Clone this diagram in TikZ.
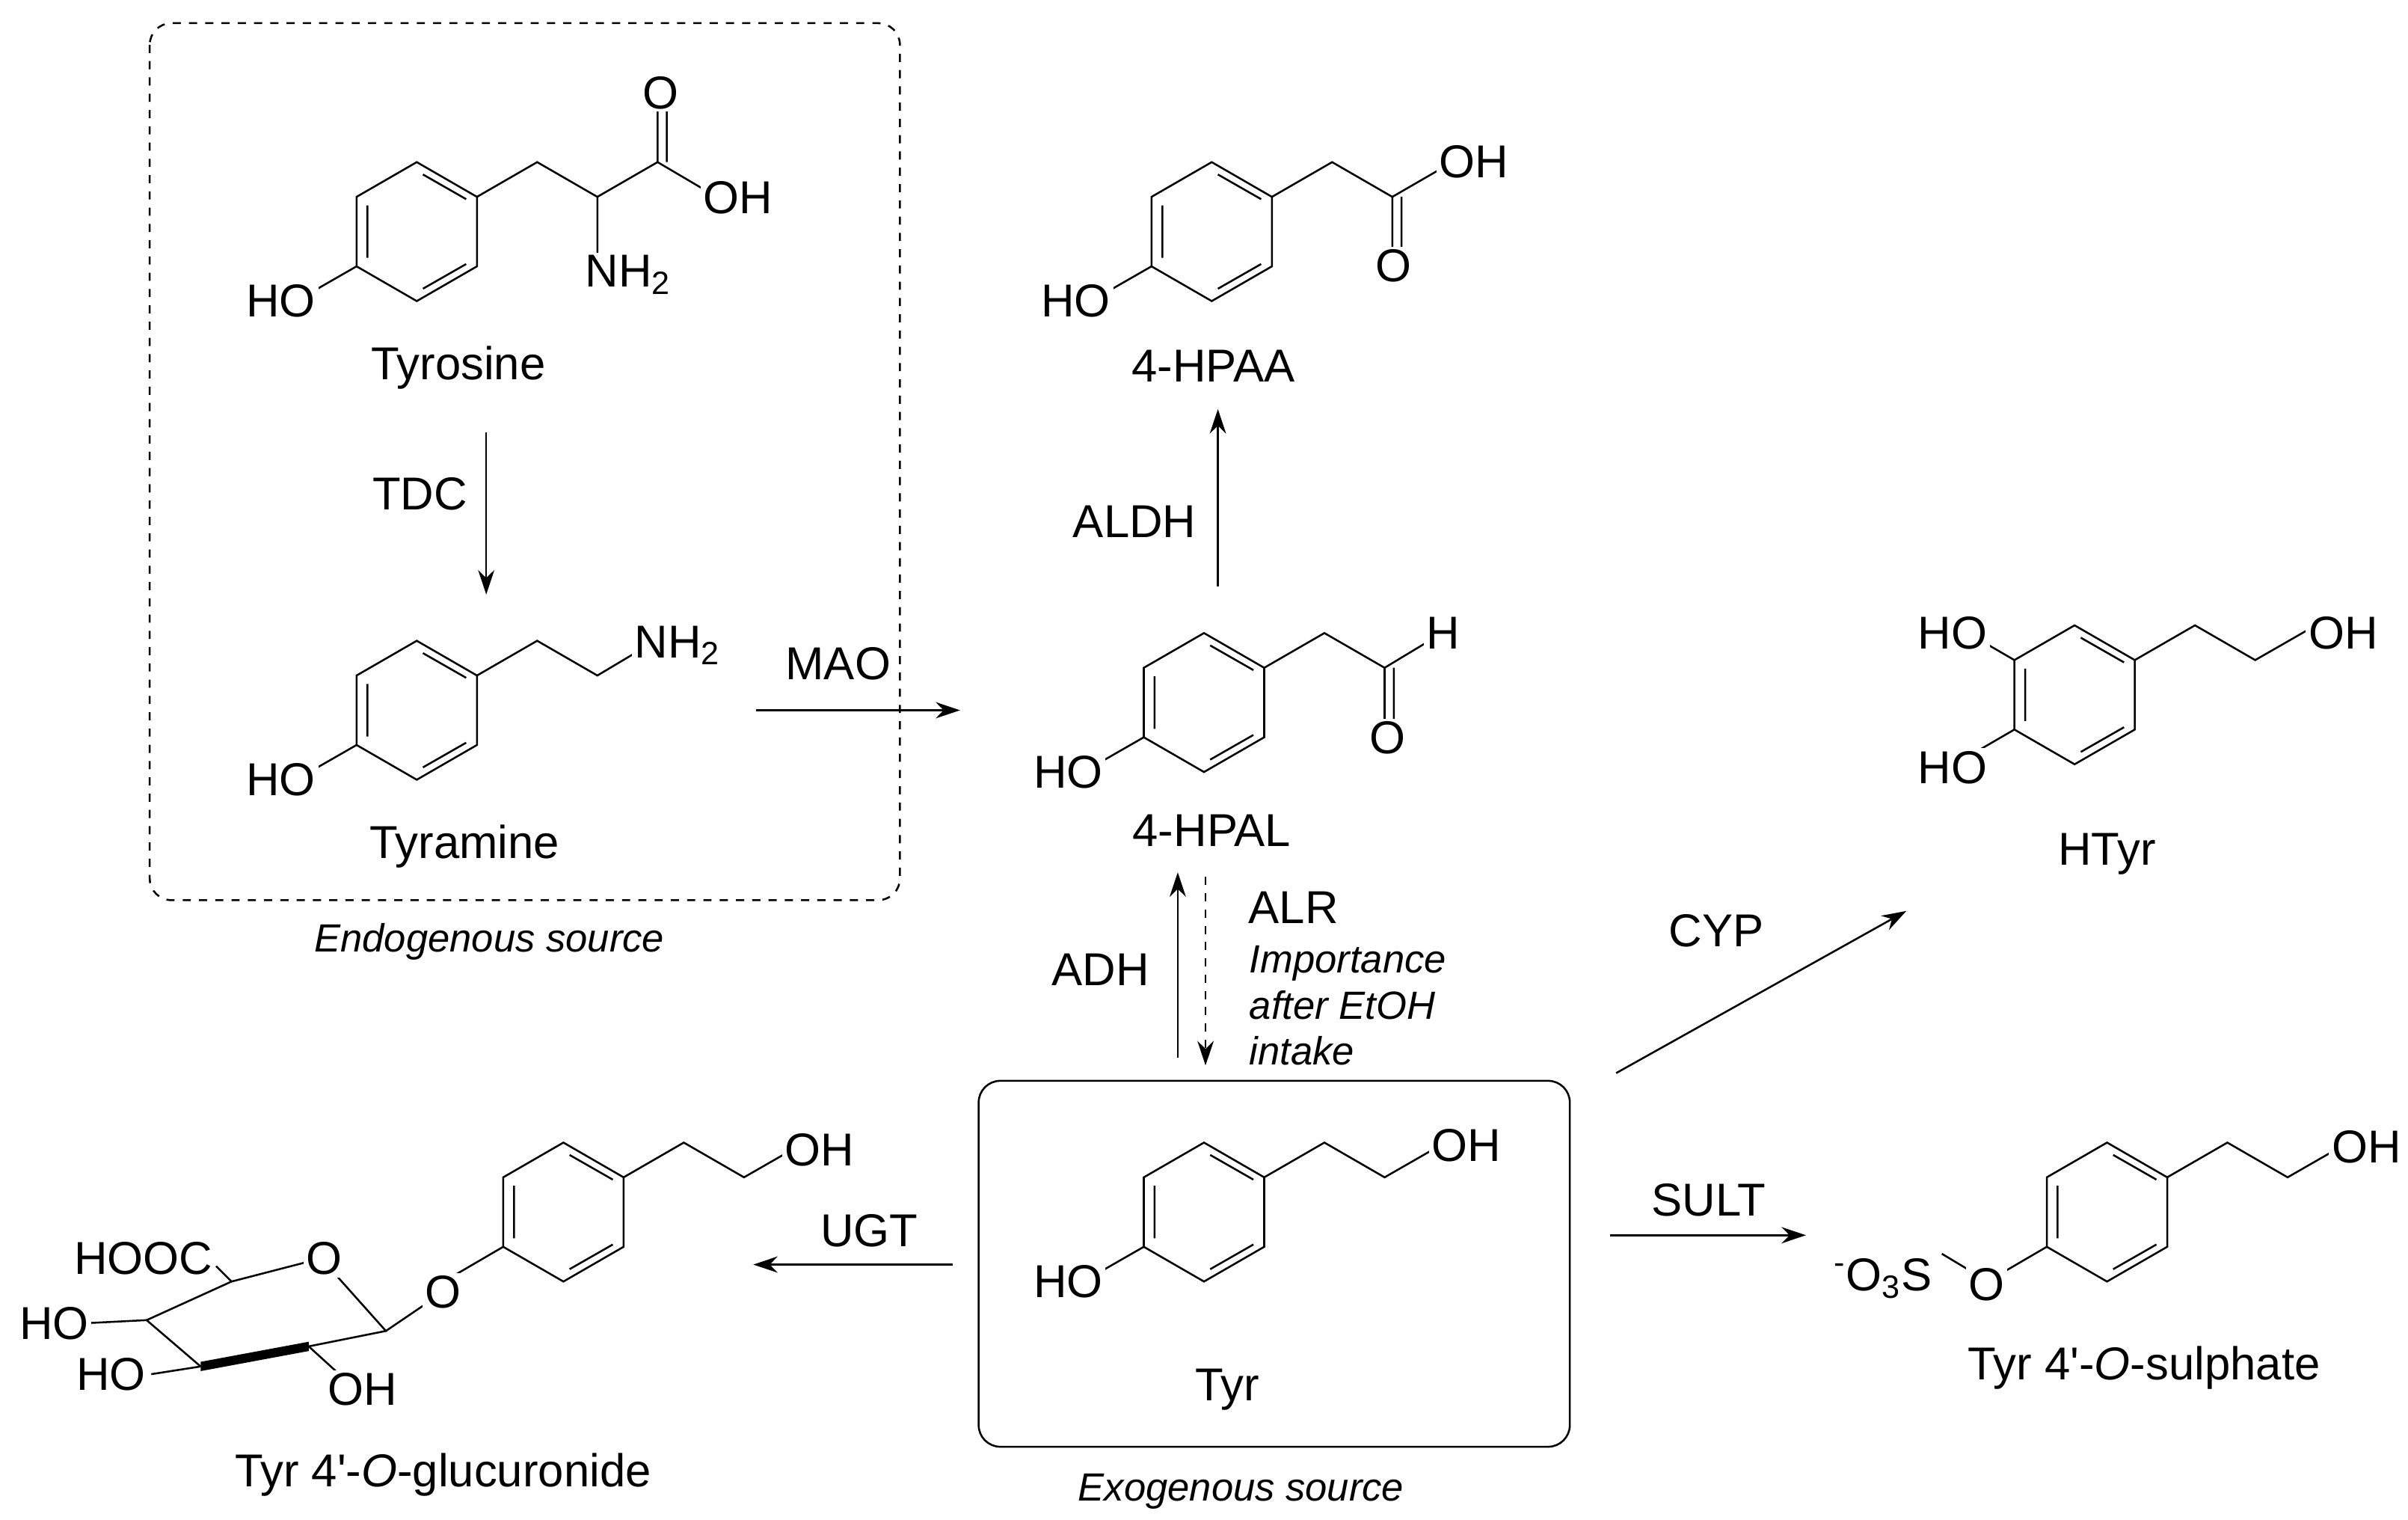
\documentclass[tikz,border=0pt]{standalone}
\usepackage{fontspec}
\setmainfont{Liberation Sans}
\usetikzlibrary{arrows.meta}
\begin{document}
\newcommand\benz[2]{\begin{scope}[shift={(#1,#2)}]
\draw (0,-45)--(39,-22.5)--(39,22.5)--(0,45)--(-39,22.5)--(-39,-22.5)--cycle;
\draw (-32,-17)--(-32,17) (4,-37)--(32,-21) (32,21)--(4,37);
\end{scope}}
\begin{tikzpicture}[x=0.02cm,y=-0.02cm,line width=0.7pt,
 lab/.style={font=\fontsize{17}{20}\selectfont,inner sep=1pt,fill=white},
 mname/.style={font=\fontsize{17}{20}\selectfont},
 capt/.style={font=\fontsize{14.5}{17}\selectfont\itshape},
 arr/.style={-{Stealth[length=9pt,width=6pt]}},
 txt/.style={font=\fontsize{17}{20}\selectfont}]
\useasboundingbox (0,0) rectangle (1560,984);
% boxes
\draw[dashed,rounded corners=8] (97,15) rectangle (583,583);
\node[capt] (endo) at (317,610) {Endogenous source};
\draw[rounded corners=8] (634,700) rectangle (1017,937);
\node[capt] (exo) at (804,966) {Exogenous source};
% Tyrosine
\benz{270}{150}
\draw (309,127.5)--(348,105)--(387,127.5)--(387,166) (387,127.5)--(426,105)--(426,70) (432,105)--(432,70) (426,105)--(460,125);
\draw (231,172.5)--(197,192);
\node[lab] (ty1) at (182,195) {HO};
\node[lab] (ty2) at (428,60) {O};
\node[lab] (ty3) at (478,128) {OH};
\node[lab] (ty4) at (407,178) {NH\textsubscript{2}};
\node[mname] (tyrosine) at (297,238) {Tyrosine};
% Tyramine
\benz{270}{460}
\draw (309,437.5)--(348,415)--(387,437.5)--(413,422);
\draw (231,482.5)--(197,502);
\node[lab] (tm1) at (182,505) {HO};
\node[lab] (tm2) at (439,418) {NH\textsubscript{2}};
\node[mname] (tyramine) at (301,548) {Tyramine};
% 4-HPAA
\benz{785}{150}
\draw (824,127.5)--(863,105)--(902,127.5)--(934,109) (902,127.5)--(902,162) (908,127.5)--(908,162);
\draw (746,172.5)--(712,192);
\node[lab] (pa1) at (697,195) {HO};
\node[lab] (pa2) at (955,105) {OH};
\node[lab] (pa3) at (903,172) {O};
\node[mname] (hpaa) at (786,237) {4-HPAA};
% 4-HPAL
\benz{780}{455}
\draw (819,432.5)--(858,410)--(897,432.5)--(926,415) (897,432.5)--(897,467) (903,432.5)--(903,467);
\draw (741,477.5)--(707,497);
\node[lab] (pl1) at (692,500) {HO};
\node[lab] (pl2) at (935,410) {H};
\node[lab] (pl3) at (899,478) {O};
\node[mname] (hpal) at (785,538) {4-HPAL};
% HTyr
\benz{1344}{450}
\draw (1383,427.5)--(1422,405)--(1461,427.5)--(1495,408);
\draw (1305,427.5)--(1280,413) (1305,472.5)--(1280,487);
\node[lab] (ht1) at (1265,410) {HO};
\node[lab] (ht2) at (1265,497) {HO};
\node[lab] (ht3) at (1518,410) {OH};
\node[mname] (htyr) at (1365,553) {HTyr};
% Tyr
\benz{780}{785}
\draw (819,762.5)--(858,740)--(897,762.5)--(931,743);
\draw (741,807.5)--(707,827);
\node[lab] (t1) at (692,830) {HO};
\node[lab] (t2) at (950,742) {OH};
\node[mname] (tyr) at (795,900) {Tyr};
% sulphate
\benz{1365}{785}
\draw (1404,762.5)--(1443,740)--(1482,762.5)--(1516,743);
\draw (1326,807.5)--(1296,825) (1278,824)--(1258,812);
\node[lab] (s1) at (1287,832) {O};
\node[lab] (s2) at (1220,828) {\textsuperscript{-}O\textsubscript{3}S};
\node[lab] (s3) at (1533,743) {OH};
\node[mname] (sulph) at (1389,886) {Tyr 4\textquotesingle-\textit{O}-sulphate};
% glucuronide
\benz{365}{785}
\draw (404,762.5)--(443,740)--(482,762.5)--(516,743);
\draw (326,807.5)--(296,825);
\draw (150,830)--(208,815)--(250,862)--(200,872) (130,885)--(95,855)--(150,830);
\fill (200,869)--(200,875)--(130,888)--(130,882)--cycle;
\draw (250,862)--(278,843);
\draw (150,830)--(140,820) (95,855)--(55,857) (130,885)--(98,890) (200,872)--(222,892);
\node[lab] (g1) at (287,837) {O};
\node[lab] (g2) at (210,815) {O};
\node[lab] (g3) at (93,815) {HOOC};
\node[lab] (g4) at (35,857) {HO};
\node[lab] (g5) at (72,890) {HO};
\node[lab] (g6) at (235,900) {OH};
\node[lab] (g7) at (531,745) {OH};
\node[mname] (gluc) at (287,955) {Tyr 4\textquotesingle-\textit{O}-glucuronide};
% arrows
\coordinate (a1) at (315,280); \coordinate (a2) at (315,385);
\draw[arr] (a1)--(a2); \node[txt] (tdc) at (272,320) {TDC};
\coordinate (b1) at (490,460); \coordinate (b2) at (622,460);
\draw[arr] (b1)--(b2); \node[txt] (mao) at (543,430) {MAO};
\coordinate (c1) at (789,380); \coordinate (c2) at (789,265);
\draw[arr] (c1)--(c2); \node[txt] (aldh) at (735,338) {ALDH};
\coordinate (d1) at (763,685); \coordinate (d2) at (763,565);
\draw[arr] (d1)--(d2); \node[txt] (adh) at (713,628) {ADH};
\coordinate (e1) at (781,568); \coordinate (e2) at (781,690);
\draw[arr,dashed] (e1)--(e2); \node[txt] (alr) at (838,588) {ALR};
\node[capt,align=left,anchor=north west] (imp) at (803,606) {Importance\\after EtOH\\intake};
\coordinate (f1) at (1047,695); \coordinate (f2) at (1235,590);
\draw[arr] (f1)--(f2); \node[txt] (cyp) at (1112,603) {CYP};
\coordinate (h1) at (1043,800); \coordinate (h2) at (1170,800);
\draw[arr] (h1)--(h2); \node[txt] (sult) at (1107,777) {SULT};
\coordinate (i1) at (617,819); \coordinate (i2) at (488,819);
\draw[arr] (i1)--(i2); \node[txt] (ugt) at (563,797) {UGT};
\end{tikzpicture}
\end{document}
